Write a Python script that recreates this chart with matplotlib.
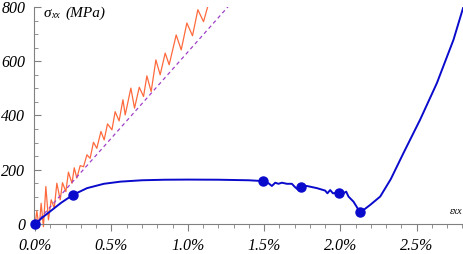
import numpy as np
import matplotlib.pyplot as plt
from matplotlib.ticker import MultipleLocator
from matplotlib.font_manager import FontProperties

plt.rcParams['font.family'] = 'Liberation Serif'
plt.rcParams['font.style'] = 'italic'

# blue stress-strain path (strain %, stress MPa)
blue_x = [0.0, 0.05, 0.10, 0.17, 0.247, 0.34, 0.45, 0.56, 0.70, 0.85, 1.00, 1.20, 1.40, 1.492,
          1.529, 1.551, 1.573, 1.594, 1.617, 1.649, 1.682, 1.704, 1.719, 1.743,
          1.780, 1.846, 1.900, 1.915, 1.933, 1.951, 1.988, 2.020, 2.038, 2.053,
          2.086, 2.119, 2.130, 2.160, 2.195, 2.261, 2.330, 2.413, 2.522,
          2.632, 2.741, 2.807]
blue_y = [0, 25, 47, 78, 107, 132, 148, 156, 161, 163, 163.5, 163, 161, 158,
          150, 140, 152, 148, 152, 148, 148, 135, 128, 138,
          140, 132, 123, 113, 125, 113, 115.5, 113, 119, 101,
          82, 52, 45, 55, 70, 101, 165, 261, 384,
          519, 679, 802]

# marked points on the blue path
dot_x = [0.0, 0.247, 1.492, 1.743, 1.988, 2.130]
dot_y = [0, 107, 158, 138, 115.5, 45]

# oscillating response (peaks / troughs)
osc_x = [0.0, 0.011, 0.026, 0.039, 0.054, 0.070, 0.087, 0.105, 0.125, 0.142, 0.164,
         0.179, 0.201, 0.218, 0.241, 0.256, 0.273, 0.295, 0.317, 0.339, 0.360,
         0.382, 0.404, 0.431, 0.452, 0.474, 0.503, 0.524, 0.550, 0.575, 0.590,
         0.627, 0.651, 0.682, 0.710, 0.732, 0.760, 0.791, 0.819, 0.852, 0.878,
         0.924, 0.957, 0.994, 1.031, 1.066, 1.103, 1.136, 1.160, 1.201, 1.225]
osc_y = [0, 48, -16, 76, -10, 138, 15, 89, 58, 150, 89,
         152, 119, 191, 150, 207, 169, 215, 211, 255, 242,
         301, 279, 341, 310, 369, 347, 414, 380, 458, 402,
         501, 427, 504, 470, 546, 488, 605, 550, 630, 587,
         697, 642, 741, 694, 790, 746, 812, 845, 802, 860]

# elastic reference line
lin_x = [0.0, 1.27]
lin_y = [0, 805]

xticks = [0.0, 0.5, 1.0, 1.5, 2.0, 2.5]
xtick_labels = ['0.0%', '0.5%', '1.0%', '1.5%', '2.0%', '2.5%']
yticks = [0, 200, 400, 600, 800]
ytick_labels = ['0', '200', '400', '600', '800']

grey = '#808080'
fp_tick = FontProperties(family='Liberation Serif', style='italic', size=11.5)
fp_lab = FontProperties(family='Liberation Serif', style='italic', size=11)
fp_sub = FontProperties(family='Liberation Serif', style='italic', size=7)

fig = plt.figure(figsize=(4.64, 2.54), dpi=100)
ax = fig.add_axes([0.0722, 0.1024, 0.9278, 0.870])

ax.plot(osc_x, osc_y, color='#ff6a3d', lw=0.9, zorder=2)
ax.plot(lin_x, lin_y, color='#a040c8', lw=0.9, ls=(0, (3, 2.5)), zorder=3)
ax.plot(blue_x, blue_y, color='#0a0acc', lw=1.4, zorder=4)
ax.plot(dot_x, dot_y, 'o', color='#0a0acc', ms=6.5, zorder=5, clip_on=False)

ax.set_xlim(-0.011, 2.81)
ax.set_ylim(-15, 800)

for s in ['top', 'right']:
    ax.spines[s].set_visible(False)
ax.spines['bottom'].set_position(('data', 0))
ax.spines['bottom'].set_color(grey)
ax.spines['left'].set_color(grey)
ax.spines['left'].set_bounds(0, 800)

ax.set_xticks(xticks)
ax.set_xticklabels(xtick_labels, fontproperties=fp_tick)
ax.set_yticks(yticks)
ax.set_yticklabels(ytick_labels, fontproperties=fp_tick)
ax.xaxis.set_minor_locator(MultipleLocator(0.1))
ax.yaxis.set_minor_locator(MultipleLocator(50))

ax.tick_params(axis='x', which='major', direction='out', length=5, color=grey, pad=5)
ax.tick_params(axis='x', which='minor', direction='out', length=3, color=grey)
ax.tick_params(axis='y', which='major', direction='in', length=5, color=grey, pad=6)
ax.tick_params(axis='y', which='minor', direction='in', length=3, color=grey)

ax.text(0.024, 0.972, 'σ', transform=ax.transAxes, fontproperties=fp_lab, va='center', ha='left')
ax.text(0.040, 0.962, 'xx', transform=ax.transAxes, fontproperties=fp_sub, va='center', ha='left')
ax.text(0.075, 0.972, '(MPa)', transform=ax.transAxes, fontproperties=fp_lab, va='center', ha='left')
ax.text(0.997, 0.075, 'εxx', transform=ax.transAxes, fontproperties=fp_sub, va='center', ha='right')

fig.savefig('out.png', dpi=100)
